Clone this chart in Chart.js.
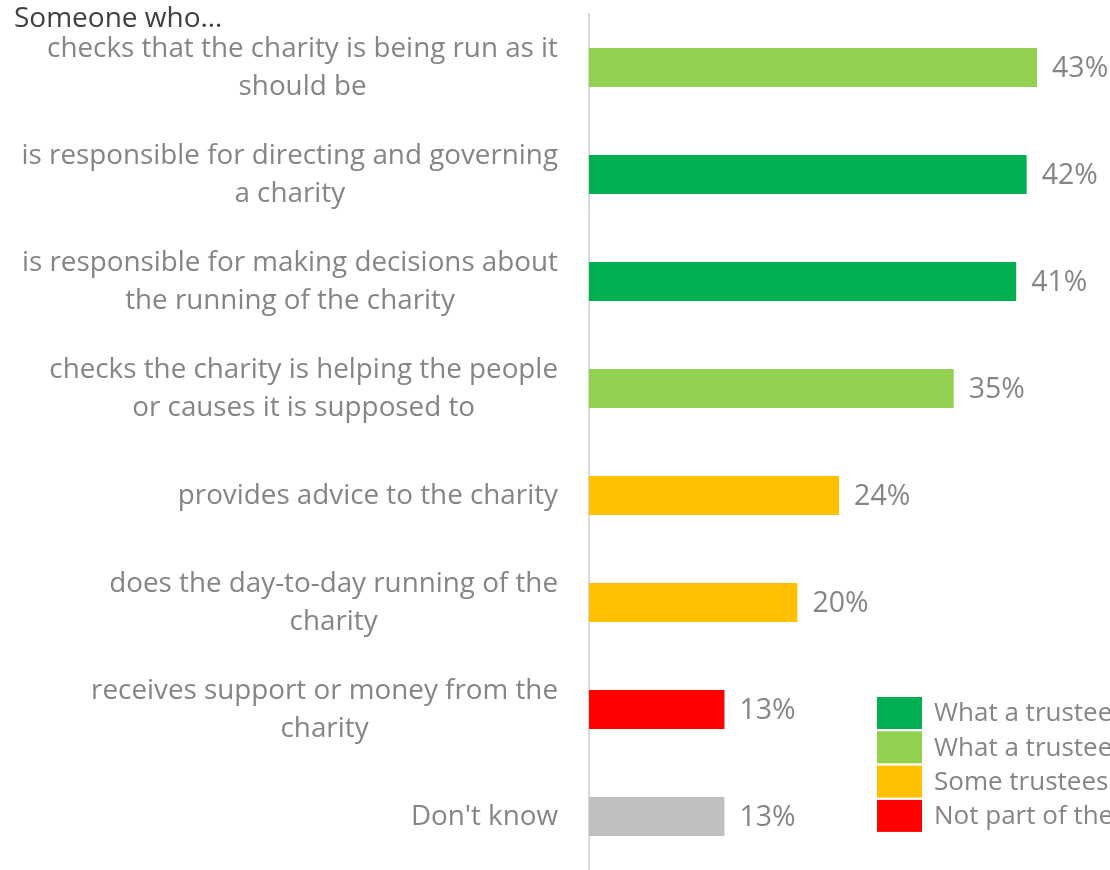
<!DOCTYPE html>
<html lang="en">
<head>
  <meta charset="UTF-8">
  <title>Someone who...</title>
  <script src="https://cdn.jsdelivr.net/npm/chart.js"></script>
  <style>
    body { margin: 0; background: #ffffff; }
    #wrap { width: 1110px; height: 870px; position: relative; }
  </style>
</head>
<body>
  <div id="wrap"><canvas id="roleChart"></canvas></div>
  <script>
    // Answers, one entry per bar (multi-line labels as arrays)
    const categories = [
      ['checks that the charity is being run as it', 'should be'],
      ['is responsible for directing and governing', 'a charity'],
      ['is responsible for making decisions about', 'the running of the charity'],
      ['checks the charity is helping the people', 'or causes it is supposed to'],
      ['provides advice to the charity'],
      ['does the day-to-day running of the', 'charity'],
      ['receives support or money from the', 'charity'],
      ["Don't know"]
    ];
    const values = [43, 42, 41, 35, 24, 20, 13, 13];
    // which legend group each bar belongs to (4 = no group)
    const groups = [1, 0, 0, 1, 2, 2, 3, 4];
    const legendLabels = [
      'What a trustee does',
      'What a trustee should do',
      'Some trustees do this',
      'Not part of the role'
    ];

    const palette = ['#00b050', '#92d050', '#ffc000', '#ff0000', '#bfbfbf'];
    const FONT = '"Open Sans", Lato, sans-serif';
    const LABEL_GREY = '#858585';

    // category labels, value labels, heading and legend
    const textPlugin = {
      id: 'textPlugin',
      afterDraw(chart) {
        const ctx = chart.ctx;
        const y = chart.scales.y;
        ctx.save();
        ctx.textBaseline = 'middle';

        // category labels: block right-aligned, lines centered within the block
        ctx.font = '27.8px ' + FONT;
        ctx.fillStyle = LABEL_GREY;
        ctx.textAlign = 'center';
        const lineH = 38;
        categories.forEach((lines, i) => {
          const cy = y.getPixelForValue(i) + 1;
          const w = Math.max(...lines.map(l => ctx.measureText(l).width));
          const cx = 558 - w / 2;
          lines.forEach((l, j) => {
            ctx.fillText(l, cx, cy + (j - (lines.length - 1) / 2) * lineH);
          });
        });

        // value labels after each bar
        ctx.font = '28.5px ' + FONT;
        ctx.textAlign = 'left';
        const meta = chart.getDatasetMeta(0);
        meta.data.forEach((bar, i) => {
          ctx.fillText(values[i] + '%', bar.x + 15, bar.y + 1);
        });

        // heading
        ctx.font = '28px ' + FONT;
        ctx.fillStyle = '#404040';
        ctx.fillText('Someone who\u2026', 14, 19);

        // legend
        ctx.font = '26px ' + FONT;
        legendLabels.forEach((label, i) => {
          const top = 697 + i * 34.3;
          ctx.fillStyle = palette[i];
          ctx.fillRect(877, top, 45, 32);
          ctx.fillStyle = LABEL_GREY;
          ctx.fillText(label, 934, top + 17);
        });
        ctx.restore();
      }
    };

    new Chart(document.getElementById('roleChart'), {
      type: 'bar',
      data: {
        labels: categories,
        datasets: [{
          data: values,
          backgroundColor: groups.map(g => palette[g]),
          categoryPercentage: 1,
          barPercentage: 0.365
        }]
      },
      options: {
        indexAxis: 'y',
        responsive: true,
        maintainAspectRatio: false,
        animation: false,
        layout: { padding: { top: 14, right: 0, bottom: 0, left: 0 } },
        plugins: {
          legend: { display: false },
          tooltip: { enabled: false }
        },
        scales: {
          x: {
            display: false,
            min: 0,
            max: 50
          },
          y: {
            grid: { display: false },
            ticks: { display: false },
            border: { display: true, color: '#d9d9d9', width: 2 },
            afterFit(scale) { scale.width = 589; }
          }
        }
      },
      plugins: [textPlugin]
    });
  </script>
</body>
</html>
